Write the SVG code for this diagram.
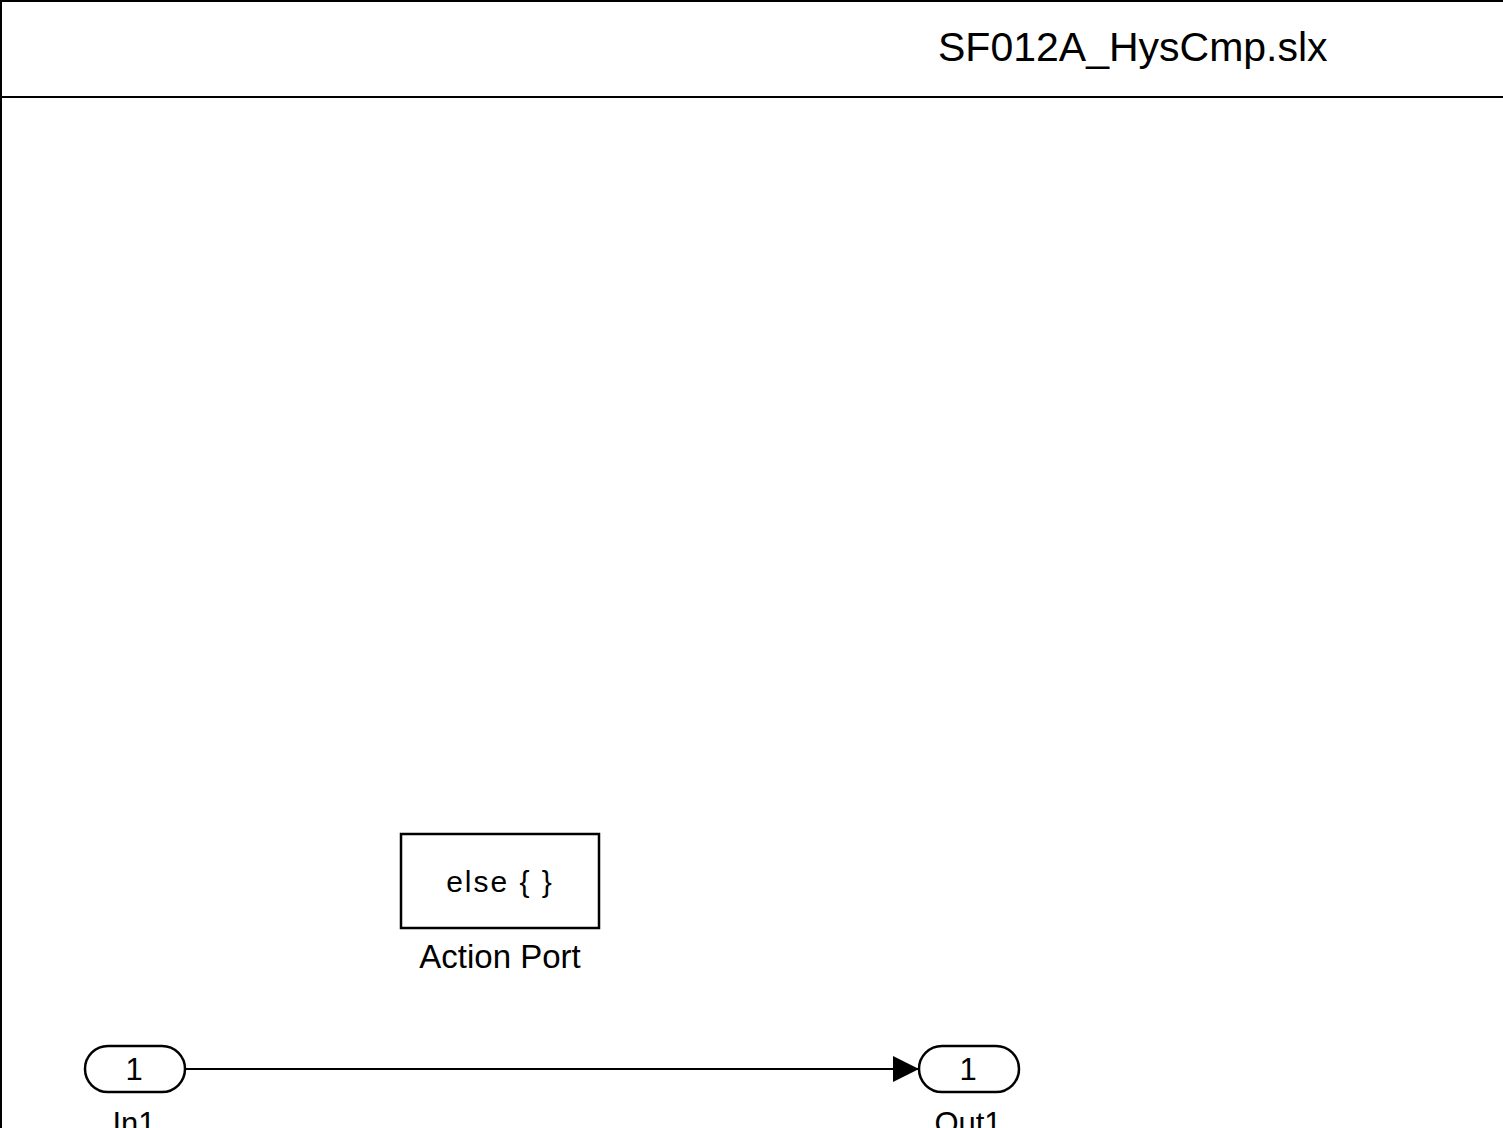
<svg xmlns="http://www.w3.org/2000/svg" width="1503" height="1128" viewBox="0 0 1503 1128">
<defs>
<style>
text{font-family:"Liberation Sans",Arial,sans-serif;fill:#000}
.blk{fill:#fff;stroke:#000;stroke-width:2.5}
.ln{stroke:#000;stroke-width:2;fill:none}
</style>
<marker id="arr" markerWidth="26" markerHeight="26" refX="26" refY="13" orient="auto" markerUnits="userSpaceOnUse">
<path d="M0,0 L26,13 L0,26 Z" fill="#000"/>
</marker>
</defs>
<rect width="1503" height="1128" fill="#fff"/>
<g id="frame">
<path class="ln" d="M1,1128 V1 H1503 M1,97 H1503"/>
<text x="938" y="61" font-size="41">SF012A_HysCmp.slx</text>
</g>
<g id="connectors">
<path class="ln" d="M186,1069 H919" marker-end="url(#arr)"/>
</g>
<g id="action_port">
<rect class="blk" x="401" y="834" width="198" height="94"/>
<text x="500" y="892" font-size="30" text-anchor="middle" letter-spacing="2">else { }</text>
<text x="500" y="968" font-size="33" text-anchor="middle">Action Port</text>
</g>
<g id="in1">
<rect class="blk" x="85" y="1046" width="100" height="46" rx="23"/>
<text x="134" y="1080" font-size="31" text-anchor="middle">1</text>
<text x="134" y="1134" font-size="31" text-anchor="middle">In1</text>
</g>
<g id="out1">
<rect class="blk" x="919" y="1046" width="100" height="46" rx="23"/>
<text x="968" y="1080" font-size="31" text-anchor="middle">1</text>
<text x="968" y="1134" font-size="31" text-anchor="middle">Out1</text>
</g>
</svg>
